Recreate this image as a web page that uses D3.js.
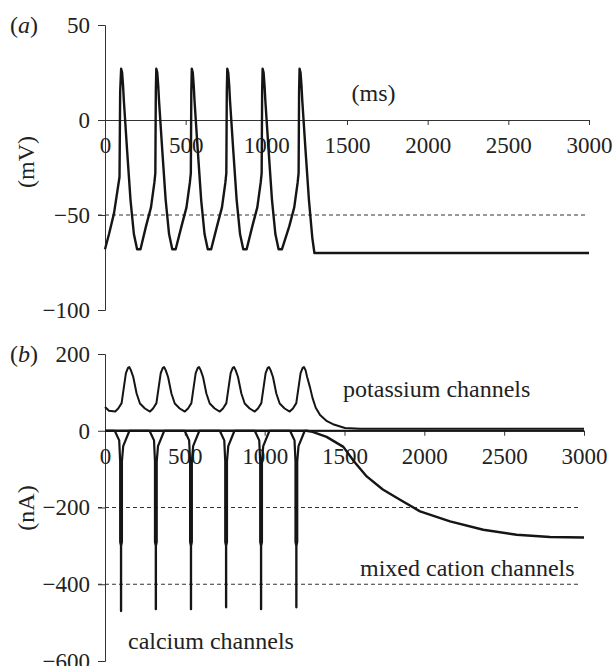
<!DOCTYPE html>
<html>
<head>
<meta charset="utf-8">
<script src="https://cdn.jsdelivr.net/npm/d3@7"></script>
<style>
  body { margin: 0; background: #fff; }
  svg { display: block; }
  svg text { font-family: "Liberation Serif", "Times New Roman", serif; }
  .axis .tick text { font-size: 23px; fill: #222; font-family: "Liberation Serif", "Times New Roman", serif; }
  .axis path, .axis line { stroke: #333; stroke-width: 1; }
  .lbl { font-size: 24px; fill: #222; }
</style>
</head>
<body>
<div id="container"></div>
<script>
// time axis (ms), shared by both panels
const timeTicks = [0, 500, 1000, 1500, 2000, 2500, 3000];
const mvTicks = [-100, -50, 0, 50];
const naTicks = [-600, -400, -200, 0, 200];
const mvRefLines = [-50];
const naRefLines = [-200, -400];

// (a) membrane potential, [ms, mV]
const voltage = [
  [0, -68], [25, -60], [56, -49], [81, -35], [90, -30], [94, 15], [100, 27], [106, 25], [112, 18], [117, 10],
  [137, -16], [158, -42], [179, -60], [199, -68], [220, -68],
  [254, -56], [285, -46], [306, -33], [312, -28], [315, 15], [318, 27], [324, 25], [330, 18], [335, 10],
  [355, -16], [376, -42], [397, -60], [417, -68], [438, -68],
  [474, -56], [505, -46], [526, -33], [532, -28], [535, 15], [538, 27], [544, 25], [550, 18], [555, 10],
  [575, -16], [596, -42], [617, -60], [637, -68], [658, -68],
  [694, -56], [725, -46], [746, -33], [752, -28], [755, 15], [758, 27], [764, 25], [770, 18], [775, 10],
  [795, -16], [816, -42], [837, -60], [857, -68], [878, -68],
  [913, -56], [944, -46], [965, -33], [971, -28], [974, 15], [977, 27], [983, 25], [989, 18], [994, 10],
  [1014, -16], [1035, -42], [1056, -60], [1076, -68], [1097, -68],
  [1142, -56], [1173, -46], [1194, -33], [1200, -28], [1203, 15], [1206, 27], [1212, 25], [1218, 18], [1223, 10],
  [1243, -16], [1264, -42], [1285, -62], [1298, -70], [3000, -70]
];

// (b) potassium current, [ms, nA]
const potassium = [
  [0, 62], [25, 52], [64, 50], [83, 58], [104, 72], [117, 110], [131, 150], [144, 164], [152, 166], [162, 158],
  [177, 140], [198, 97], [219, 71], [250, 58], [282, 50],
  [301, 58], [322, 72], [335, 110], [349, 150], [362, 164], [370, 166], [380, 158], [395, 140], [416, 97],
  [437, 71], [468, 58], [500, 50],
  [520, 58], [541, 72], [554, 110], [568, 150], [581, 164], [589, 166], [599, 158], [614, 140], [635, 97],
  [656, 71], [687, 58], [719, 50],
  [739, 58], [760, 72], [773, 110], [787, 150], [800, 164], [808, 166], [818, 158], [833, 140], [854, 97],
  [875, 71], [906, 58], [938, 50],
  [958, 58], [979, 72], [992, 110], [1006, 150], [1019, 164], [1027, 166], [1037, 158], [1052, 140], [1073, 97],
  [1094, 71], [1125, 58], [1157, 50],
  [1177, 58], [1198, 72], [1211, 110], [1225, 150], [1238, 164], [1246, 166], [1256, 158], [1266, 140],
  [1284, 113], [1300, 85], [1320, 60], [1347, 41], [1390, 25], [1428, 17], [1503, 7], [1600, 5], [3000, 5]
];

// (b) calcium current, [ms, nA]
const calcium = [
  [0, 0], [61, 0], [89, -25], [95, -80], [95, -290], [100, -300], [100, -470], [101, -470], [101, -300],
  [106, -290], [106, -80], [114, -40], [153, 0],
  [279, 0], [307, -25], [313, -80], [313, -290], [318, -300], [318, -465], [319, -465], [319, -300],
  [324, -290], [324, -80], [332, -40], [371, 0],
  [499, 0], [527, -25], [533, -80], [533, -290], [538, -300], [538, -465], [539, -465], [539, -300],
  [544, -290], [544, -80], [552, -40], [591, 0],
  [719, 0], [747, -25], [753, -80], [753, -290], [758, -300], [758, -460], [759, -460], [759, -300],
  [764, -290], [764, -80], [772, -40], [811, 0],
  [938, 0], [966, -25], [972, -80], [972, -290], [977, -300], [977, -465], [978, -465], [978, -300],
  [983, -290], [983, -80], [991, -40], [1030, 0],
  [1159, 0], [1187, -25], [1193, -80], [1193, -290], [1198, -300], [1198, -460], [1199, -460], [1199, -300],
  [1204, -290], [1204, -80], [1212, -40], [1251, 0],
  [3000, 0]
];

// (b) mixed cation current, [ms, nA]
const mixedCation = [
  [0, 0], [1263, 0], [1300, -3], [1388, -16], [1493, -42], [1560, -80], [1639, -119], [1740, -153],
  [1848, -180], [1973, -210], [2161, -236], [2369, -258], [2578, -271], [2787, -277], [3000, -278]
];

const width = 616;
const height = 666;

const svg = d3.create("svg")
  .attr("width", width)
  .attr("height", height)
  .attr("viewBox", [0, 0, width, height]);

const fmt = d3.format("d");

function panel(opts) {
  const { x, y, yTicks, refLines, traces, letter, unit, unitY } = opts;
  const g = svg.append("g");

  // dashed reference levels
  g.append("g")
    .selectAll("line")
    .data(refLines)
    .join("line")
    .attr("x1", x.range()[0] - 7)
    .attr("x2", x.range()[1] - 3)
    .attr("y1", (d) => y(d))
    .attr("y2", (d) => y(d))
    .attr("stroke", "#333")
    .attr("stroke-width", 1)
    .attr("stroke-dasharray", "4,3");

  g.append("g")
    .attr("class", "axis")
    .attr("transform", `translate(${x.range()[0]},0)`)
    .call(d3.axisLeft(y).tickValues(yTicks).tickFormat(fmt).tickSize(7).tickPadding(8))
    .attr("font-family", null)
    .attr("font-size", null);

  g.append("g")
    .attr("class", "axis")
    .attr("transform", `translate(0,${y(0)})`)
    .call(d3.axisBottom(x).tickValues(timeTicks).tickFormat(fmt).tickSize(5).tickSizeOuter(0).tickPadding(12))
    .attr("font-family", null)
    .attr("font-size", null);

  const line = d3.line()
    .x((d) => x(d[0]))
    .y((d) => y(d[1]));

  traces.forEach((tr) => {
    g.append("path")
      .attr("fill", "none")
      .attr("stroke", "#151515")
      .attr("stroke-width", tr.w)
      .attr("stroke-linejoin", "round")
      .attr("d", line(tr.data));
  });

  const lt = g.append("text")
    .attr("class", "lbl")
    .attr("x", 10)
    .attr("y", y.range()[1] + 8);
  lt.append("tspan").text("(");
  lt.append("tspan").attr("font-style", "italic").text(letter);
  lt.append("tspan").text(")");

  g.append("text")
    .attr("class", "lbl")
    .attr("text-anchor", "middle")
    .attr("transform", `translate(34,${unitY}) rotate(-90)`)
    .text(unit);

  return g;
}

// (a)
const xa = d3.scaleLinear().domain([0, 3000]).range([105, 589]);
const ya = d3.scaleLinear().domain([-100, 50]).range([310, 25]);
const ga = panel({
  x: xa, y: ya, yTicks: mvTicks, refLines: mvRefLines, letter: "a", unit: "(mV)", unitY: 162,
  traces: [{ data: voltage, w: 2.4 }]
});
ga.append("text").attr("class", "lbl")
  .attr("text-anchor", "middle")
  .attr("x", xa(1665)).attr("y", ya(10)).text("(ms)");

// (b)
const xb = d3.scaleLinear().domain([0, 3000]).range([105, 584]);
const yb = d3.scaleLinear().domain([-600, 200]).range([661, 354]);
const gb = panel({
  x: xb, y: yb, yTicks: naTicks, refLines: naRefLines, letter: "b", unit: "(nA)", unitY: 508,
  traces: [
    { data: mixedCation, w: 2.4 },
    { data: potassium, w: 2 },
    { data: calcium, w: 2.2 }
  ]
});
gb.append("text").attr("class", "lbl").attr("x", xb(1491)).attr("y", yb(88)).text("potassium channels");
gb.append("text").attr("class", "lbl").attr("x", xb(1597)).attr("y", yb(-379)).text("mixed cation channels");
gb.append("text").attr("class", "lbl").attr("x", xb(144)).attr("y", yb(-570)).text("calcium channels");

container.append(svg.node());
</script>
</body>
</html>
